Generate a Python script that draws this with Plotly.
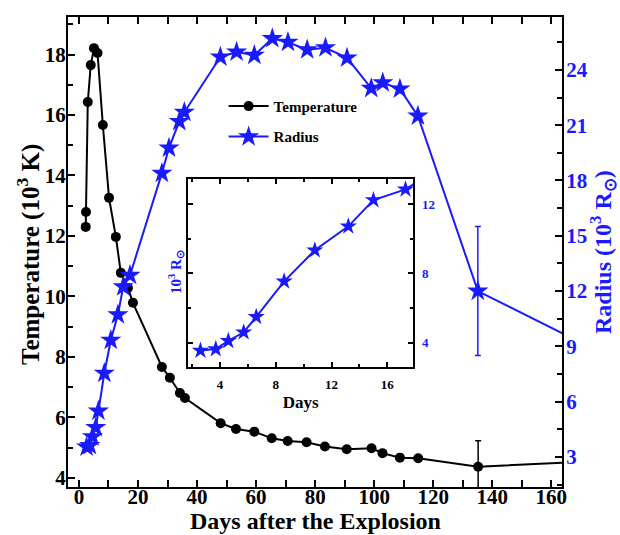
import plotly.graph_objects as go

# Temperature (10^3 K)
temp_days = [2.3, 2.4, 3.0, 4.0, 5.1, 6.3, 8.1, 10.2, 12.5, 14.2, 16.6, 18.3, 28.1, 30.8,
             34.2, 35.9, 48.0, 53.2, 59.4, 65.3, 70.7, 77.1, 83.3, 90.7, 99.1, 102.8,
             108.7, 114.9, 135.2, 170.0]
temp_vals = [12.30, 12.79, 16.43, 17.65, 18.21, 18.05, 15.67, 13.26, 11.97, 10.78, 10.28,
             9.79, 7.67, 7.31, 6.81, 6.64, 5.81, 5.62, 5.53, 5.31, 5.22, 5.18, 5.04, 4.95,
             4.98, 4.82, 4.67, 4.65, 4.37, 4.53]
temp_err = [None] * 28 + [0.86, None]

# Radius (10^3 R_sun)
rad_days = [2.6, 3.7, 4.6, 5.7, 6.6, 8.6, 10.8, 13.2, 15.0, 17.3, 28.1, 30.5, 34.0, 35.7,
            47.9, 53.4, 59.4, 65.5, 70.8, 77.3, 83.5, 90.8, 99.0, 102.9, 108.7, 114.8,
            135.1, 170.0]
rad_vals = [3.54, 3.63, 4.10, 4.60, 5.49, 7.54, 9.34, 10.72, 12.24, 12.86, 18.4, 19.77,
            21.2, 21.7, 24.7, 24.97, 24.8, 25.7, 25.5, 25.1, 25.2, 24.65, 23.0, 23.3,
            22.97, 21.5, 12.0, 9.2]
rad_err = [None] * 26 + [3.5, None]

x_ticks = [0, 20, 40, 60, 80, 100, 120, 140, 160]
t_ticks = [4, 6, 8, 10, 12, 14, 16, 18]
r_ticks = [3, 6, 9, 12, 15, 18, 21, 24]
inset_x_ticks = [4, 8, 12, 16]
inset_y_ticks = [4, 8, 12]

BLUE = "#1a1aff"
FONT = "Liberation Serif"

PL, PR, PT, PB = 68, 562, 17, 487  # plot area in pixels


def px(x, y):
    return (x - PL) / (PR - PL), (PB - y) / (PB - PT)


def tf(size, color="black"):
    return dict(family=FONT, size=size, color=color, weight="bold")


fig = go.Figure()
fig.add_trace(go.Scatter(
    x=temp_days, y=temp_vals, mode="lines+markers", name="Temperature", legendgroup="t",
    line=dict(color="black", width=2), marker=dict(symbol="circle", size=10, color="black"),
    error_y=dict(type="data", array=temp_err, color="black", thickness=1.5, width=3),
    xaxis="x", yaxis="y"))
fig.add_trace(go.Scatter(
    x=rad_days, y=rad_vals, mode="lines+markers", name="Radius", legendgroup="r",
    line=dict(color=BLUE, width=2), marker=dict(symbol="star", size=16, color=BLUE),
    error_y=dict(type="data", array=rad_err, color=BLUE, thickness=1.5, width=3),
    xaxis="x", yaxis="y2"))
fig.add_trace(go.Scatter(
    x=rad_days, y=rad_vals, mode="lines+markers", showlegend=False,
    line=dict(color=BLUE, width=2), marker=dict(symbol="star", size=13, color=BLUE),
    xaxis="x3", yaxis="y3"))

axis_common = dict(showline=True, linecolor="black", linewidth=2, ticks="inside",
                   tickcolor="black", tickwidth=1.5, showgrid=False, zeroline=False,
                   automargin=False)

ann = []
for text, (x, y), ang, size, color in [
    ("<b>Days after the Explosion</b>", (315, 521), 0, 24, "black"),
    ("<b>Temperature (10<sup>3</sup> K)</b>", (29, 255), -90, 25, "black"),
    ("<b>Radius (10<sup>3</sup> R<sub>⊙</sub>)</b>", (603, 252), -90, 24, BLUE),
    ("<b>10<sup>3</sup> R<sub>⊙</sub></b>", (176, 272), -90, 15, BLUE),
]:
    ax_, ay_ = px(x, y)
    ann.append(dict(text=text, xref="paper", yref="paper", x=ax_, y=ay_, textangle=ang,
                    xanchor="center", yanchor="middle", showarrow=False,
                    font=dict(family=FONT, size=size, color=color)))

fig.update_layout(
    width=620, height=535,
    margin=dict(l=PL, r=620 - PR, t=PT, b=535 - PB),
    paper_bgcolor="white", plot_bgcolor="white",
    font=dict(family=FONT, color="black"),
    showlegend=True,
    legend=dict(x=0.315, y=0.845, xanchor="left", yanchor="top", bgcolor="rgba(0,0,0,0)",
                font=tf(15), tracegroupgap=8, itemwidth=40),
    xaxis=dict(**axis_common, range=[-3.7, 163.6], tickvals=x_ticks, ticklen=7,
               mirror="allticks", ticklabelstandoff=-10,
               minor=dict(dtick=10, tick0=0, ticklen=5, ticks="inside", tickcolor="black", tickwidth=1.5),
               tickfont=tf(21)),
    yaxis=dict(**axis_common, range=[3.70, 19.24], tickvals=t_ticks, ticklen=7,
               mirror=True, ticklabelstandoff=-4,
               minor=dict(dtick=1, tick0=0, ticklen=5, ticks="inside", tickcolor="black", tickwidth=1.5),
               tickfont=tf(21)),
    yaxis2=dict(**axis_common, range=[1.37, 26.87], tickvals=r_ticks, ticklen=7,
                overlaying="y", side="right", anchor="x", ticklabelstandoff=-2,
                minor=dict(dtick=1.5, tick0=0, ticklen=5, ticks="inside", tickcolor="black", tickwidth=1.5),
                tickfont=tf(21, BLUE)),
    xaxis3=dict(**axis_common, domain=[0.2435, 0.699], anchor="y3", range=[1.73, 17.86],
                tickvals=inset_x_ticks, ticklen=5, mirror="allticks", ticklabelstandoff=5,
                minor=dict(dtick=2, tick0=0, ticklen=3, ticks="inside", tickcolor="black", tickwidth=1.5),
                tickfont=tf(13),
                title=dict(text="<b>Days</b>", standoff=5,
                           font=dict(family=FONT, size=17, color="black"))),
    yaxis3=dict(**axis_common, domain=[0.256, 0.6547], anchor="x3", range=[2.61, 13.44],
                tickvals=inset_y_ticks, ticklen=5, side="right", mirror="allticks",
                ticklabelstandoff=4,
                minor=dict(dtick=2, tick0=0, ticklen=3, ticks="inside", tickcolor="black", tickwidth=1.5),
                tickfont=tf(13, BLUE)),
    annotations=ann,
)

fig.write_html("out.html")
